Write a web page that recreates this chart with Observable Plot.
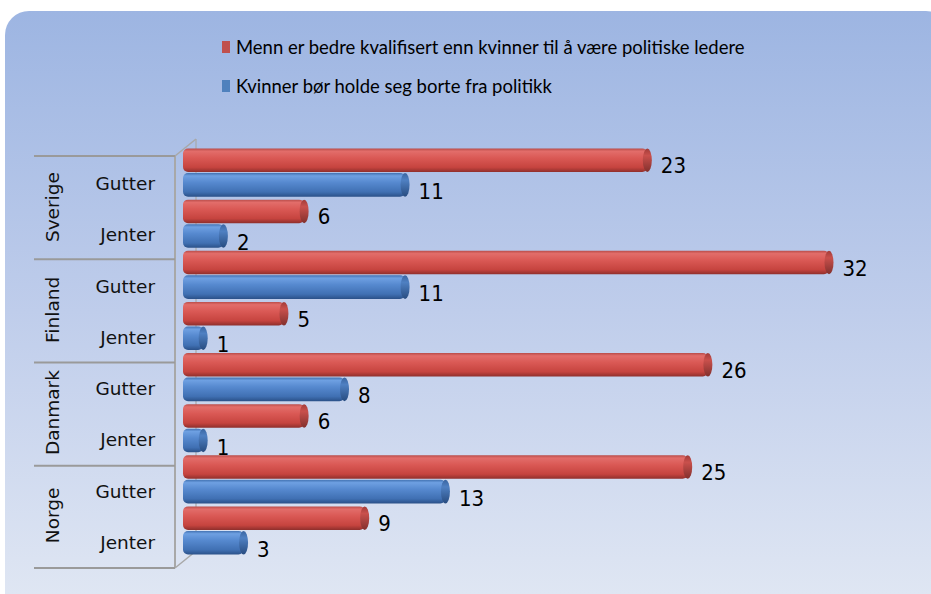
<!DOCTYPE html>
<html>
<head>
<meta charset="utf-8">
<script src="https://cdn.jsdelivr.net/npm/d3@7"></script>
<script src="https://cdn.jsdelivr.net/npm/@observablehq/plot@0.6"></script>
<style>
  html, body { margin: 0; padding: 0; background: #ffffff; width: 931px; height: 594px; overflow: hidden; }
  #bg { position: absolute; left: 5px; top: 11px; width: 945px; height: 610px; border-radius: 24px;
        background: linear-gradient(to bottom, #9db5e2 0px, #bfcdeb 300px, #dfe6f3 583px); }
  #wrap { position: relative; width: 931px; }
  #legend { position: relative; height: 110px; font-family: Lato, "Open Sans", sans-serif; font-size: 17px; color: #000; }
  .li { position: absolute; left: 222px; white-space: nowrap; height: 20px; }
  .sw { position: absolute; left: 0; top: 4px; width: 8px; height: 12px; }
  .tx { position: absolute; left: 14px; top: 0; line-height: 20px; white-space: nowrap; }
</style>
</head>
<body>
<div id="bg"></div>
<div id="wrap">
  <div id="legend"></div>
  <div id="chart"></div>
</div>
<script>
const countries = ["Sverige", "Finland", "Danmark", "Norge"];
const genders = ["Gutter", "Jenter"];
const seriesNames = [
  "Menn er bedre kvalifisert enn kvinner til å være politiske ledere",
  "Kvinner bør holde seg borte fra politikk"
];
const seriesColors = ["#c0504d", "#4f81bd"];
// order: Sverige Gutter, Sverige Jenter, Finland Gutter, Finland Jenter, Danmark ..., Norge ...
const mennValues = [23, 6, 32, 5, 26, 6, 25, 9];
const kvinnerValues = [11, 2, 11, 1, 8, 1, 13, 3];

// legend (HTML, above the SVG)
const legend = document.getElementById("legend");
const texts = [];
seriesNames.forEach((name, i) => {
  const div = document.createElement("div");
  div.className = "li";
  div.style.top = (i === 0 ? 37 : 76) + "px";
  const sw = document.createElement("span");
  sw.className = "sw";
  sw.style.background = seriesColors[i];
  div.appendChild(sw);
  const tx = document.createElement("span");
  tx.className = "tx";
  tx.textContent = name;
  div.appendChild(tx);
  legend.appendChild(div);
  texts.push(tx);
});
// fit the legend font so the first entry spans like the original
const w0 = texts[0].getBoundingClientRect().width;
const fs = Math.max(12, Math.min(22, 17 * 509 / w0));
legend.style.fontSize = fs + "px";

const rows = [];
countries.forEach((c, ci) => genders.forEach((g, gi) => {
  const i = ci * 2 + gi;
  rows.push({country: c, gender: g, s: 0, key: `${c}|${g}|0`, value: mennValues[i]});
  rows.push({country: c, gender: g, s: 1, key: `${c}|${g}|1`, value: kvinnerValues[i]});
}));
const keys = rows.map(d => d.key);
const red = rows.filter(d => d.s === 0);
const blue = rows.filter(d => d.s === 1);

const FRONT = 9; // depth offset of the front plane (px)

function defsMark() {
  const g = d3.create("svg:g");
  const defs = g.append("defs");
  const mk = (id, stops) => {
    const lg = defs.append("linearGradient").attr("id", id).attr("x1", 0).attr("y1", 0).attr("x2", 0).attr("y2", 1);
    stops.forEach(([o, c]) => lg.append("stop").attr("offset", o).attr("stop-color", c));
  };
  mk("gR", [[0, "#b94c49"], [0.12, "#e26d6a"], [0.4, "#da5955"], [0.8, "#c6443f"], [1, "#8f2f2c"]]);
  mk("gB", [[0, "#4272b2"], [0.12, "#6ea0e2"], [0.4, "#5689cf"], [0.8, "#4070b3"], [1, "#2b5189"]]);
  mk("cR", [[0, "#a23c39"], [0.3, "#c9504c"], [1, "#82302d"]]);
  mk("cB", [[0, "#3a65a1"], [0.3, "#4f80c2"], [1, "#284c80"]]);
  return g.node();
}

function frameMark(index, scales) {
  const y = scales.y, x = scales.x;
  const bw = y.bandwidth();
  const g = d3.create("svg:g");
  const x0 = x(0);
  const frontX = x0 - 8;
  const backX = x0 + 13;
  const top = y(keys[0]) + FRONT;
  const bottom = y(keys[keys.length - 1]) + bw + FRONT + 3;
  const stroke = "#9a9a9a";
  g.append("line").attr("x1", frontX).attr("y1", top).attr("x2", backX).attr("y2", top - 17)
    .attr("stroke", "#a8a8a8").attr("stroke-width", 1.5);
  g.append("line").attr("x1", backX).attr("y1", top - 17).attr("x2", backX).attr("y2", bottom - 17)
    .attr("stroke", "#a8a8a8").attr("stroke-width", 1.2);
  g.append("line").attr("x1", frontX).attr("y1", bottom).attr("x2", backX).attr("y2", bottom - 17)
    .attr("stroke", "#a8a8a8").attr("stroke-width", 1.5);
  g.append("line").attr("x1", frontX).attr("y1", top).attr("x2", frontX).attr("y2", bottom)
    .attr("stroke", "#a8a8a8").attr("stroke-width", 2);
  countries.forEach((c, ci) => {
    const yy = y(`${c}|Gutter|0`) + FRONT + ci * 1;
    g.append("line").attr("x1", 34).attr("x2", frontX).attr("y1", yy).attr("y2", yy)
      .attr("stroke", stroke).attr("stroke-width", 1.8);
  });
  g.append("line").attr("x1", 34).attr("x2", frontX).attr("y1", bottom).attr("y2", bottom)
    .attr("stroke", stroke).attr("stroke-width", 1.8);
  countries.forEach((c, ci) => {
    genders.forEach(gn => {
      const yy = y(`${c}|${gn}|1`) + bw / 2 - 2 + ci * 0.5;
      g.append("text").attr("x", 155).attr("y", yy).attr("dy", "0.35em")
        .attr("text-anchor", "end").attr("font-family", "DejaVu Sans, sans-serif")
        .attr("font-size", 18.5).attr("fill", "#111").text(gn);
    });
    const cy = y(`${c}|Jenter|0`) + FRONT + ci * 0.5;
    g.append("text").attr("transform", `translate(53,${cy}) rotate(-90)`).attr("dy", "0.35em")
      .attr("text-anchor", "middle").attr("font-family", "DejaVu Sans, sans-serif")
      .attr("font-size", 18.5).attr("fill", "#111").text(c);
  });
  return g.node();
}

function capsMark(index, scales) {
  const y = scales.y, x = scales.x;
  const bw = y.bandwidth();
  const g = d3.create("svg:g");
  rows.forEach(d => {
    const top = y(d.key) + (d.s === 0 ? 1.5 : 0.5);
    const h = bw - 2;
    g.append("ellipse").attr("cx", x(d.value)).attr("cy", top + h / 2)
      .attr("rx", 4.5).attr("ry", h / 2)
      .attr("fill", d.s === 0 ? "url(#cR)" : "url(#cB)");
  });
  return g.node();
}

const chart = Plot.plot({
  width: 931,
  height: 484,
  marginLeft: 183,
  marginRight: 102,
  marginTop: 37,
  marginBottom: 38,
  style: {background: "transparent", overflow: "visible"},
  x: {domain: [0, 32], axis: null},
  y: {domain: keys, padding: 0, round: false, axis: null},
  marks: [
    defsMark,
    frameMark,
    Plot.barX(red, {x: "value", y: "key", fill: "url(#gR)", rx: 5, insetTop: 1.5, insetBottom: 0.5}),
    Plot.barX(blue, {x: "value", y: "key", fill: "url(#gB)", rx: 5, insetTop: 0.5, insetBottom: 1.5}),
    capsMark,
    Plot.text(rows, {x: "value", y: "key", text: d => String(d.value), dx: 13, dy: 6, textAnchor: "start",
      fontSize: 22, fontFamily: "DejaVu Sans Condensed, DejaVu Sans, sans-serif", fill: "#000"})
  ]
});
document.getElementById("chart").appendChild(chart);
</script>
</body>
</html>
